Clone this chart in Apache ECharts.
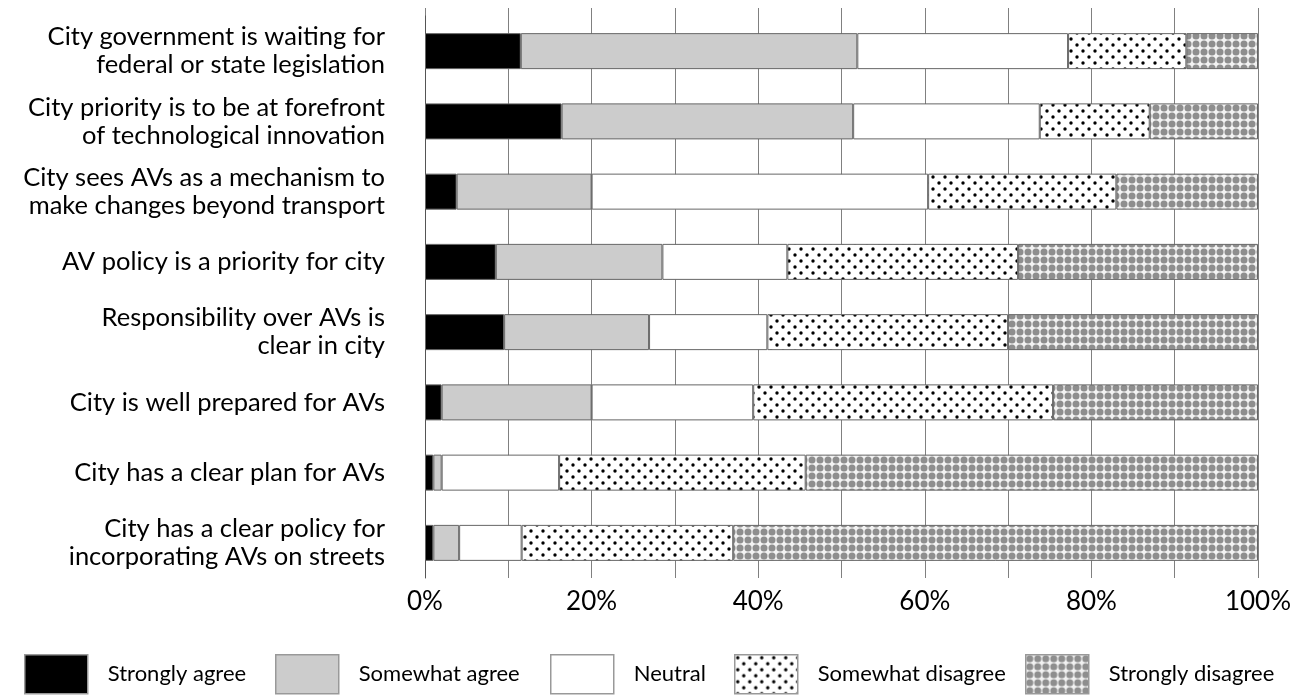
<!DOCTYPE html>
<html>
<head>
<meta charset="utf-8">
<script src="https://cdn.jsdelivr.net/npm/echarts@6/dist/echarts.min.js"></script>
<style>
html,body{margin:0;padding:0;background:#fff;}
#chart{width:1307px;height:696px;}
</style>
</head>
<body>
<div id="chart"></div>
<script>
const categories = [
  "City government is waiting for\nfederal or state legislation",
  "City priority is to be at forefront\nof technological innovation",
  "City sees AVs as a mechanism to\nmake changes beyond transport",
  "AV policy is a priority for city",
  "Responsibility over AVs is\nclear in city",
  "City is well prepared for AVs",
  "City has a clear plan for AVs",
  "City has a clear policy for\nincorporating AVs on streets"
];
const seriesNames = ["Strongly agree", "Somewhat agree", "Neutral", "Somewhat disagree", "Strongly disagree"];
const stronglyAgree    = [11.5, 16.4, 3.8, 8.5, 9.5, 2.0, 1.0, 1.0];
const somewhatAgree    = [40.4, 35.0, 16.2, 20.0, 17.4, 18.0, 1.0, 3.1];
const neutral          = [25.3, 22.4, 40.4, 15.0, 14.2, 19.4, 14.1, 7.5];
const somewhatDisagree = [14.2, 13.2, 22.6, 27.7, 28.9, 36.0, 29.6, 25.4];
const stronglyDisagree = [8.6, 13.0, 17.0, 28.8, 30.0, 24.6, 54.3, 63.0];
const tickLabels = ["0%", "20%", "40%", "60%", "80%", "100%"];

function dotPattern() {
  const c = document.createElement('canvas');
  c.width = 12; c.height = 12;
  const g = c.getContext('2d');
  g.fillStyle = '#ffffff'; g.fillRect(0, 0, 12, 12);
  g.fillStyle = '#000000';
  [[3, 3], [9, 9]].forEach(p => { g.beginPath(); g.arc(p[0], p[1], 1.7, 0, Math.PI * 2); g.fill(); });
  return { image: c, repeat: 'repeat' };
}
function circlePattern() {
  const s = 8;
  const c = document.createElement('canvas');
  c.width = s; c.height = s;
  const g = c.getContext('2d');
  g.fillStyle = '#f2f2f2'; g.fillRect(0, 0, s, s);
  g.fillStyle = '#8e8e8e';
  g.beginPath(); g.arc(s / 2, s / 2, 3.5, 0, Math.PI * 2); g.fill();
  return { image: c, repeat: 'repeat' };
}

const fills = ['#000000', '#cccccc', '#ffffff', dotPattern(), circlePattern()];
const dataSets = [stronglyAgree, somewhatAgree, neutral, somewhatDisagree, stronglyDisagree];
const FONT = 'Lato';

const series = seriesNames.map((n, i) => ({
  name: n,
  type: 'bar',
  stack: 'total',
  barWidth: 36,
  xAxisIndex: 0,
  yAxisIndex: 0,
  data: dataSets[i],
  itemStyle: { color: fills[i], borderColor: '#666666', borderWidth: 1 },
  emphasis: { disabled: true },
  animation: false
}));

const legendLefts = [24, 275, 550, 734, 1025];
const legends = seriesNames.map((n, i) => ({
  data: [n],
  left: legendLefts[i],
  top: 654,
  padding: 0,
  itemWidth: 63,
  itemHeight: 39,
  icon: 'rect',
  itemStyle: { borderColor: '#999999', borderWidth: 1.5 },
  selectedMode: false,
  textStyle: { fontFamily: FONT, fontSize: 22, color: '#000', padding: [0, 0, 0, 15] }
}));

const chart = echarts.init(document.getElementById('chart'), null, { renderer: 'canvas' });
chart.setOption({
  animation: false,
  backgroundColor: '#ffffff',
  legend: legends,
  grid: [
    { left: 425, right: 49, top: 16, bottom: 118 },
    { left: 425, right: 49, top: 8, bottom: 118 }
  ],
  xAxis: [
    {
      type: 'value', gridIndex: 0, min: 0, max: 100, interval: 20,
      axisLine: { show: false }, axisTick: { show: false }, splitLine: { show: false },
      axisLabel: {
        margin: 11, fontFamily: FONT, fontSize: 26, color: '#000',
        formatter: v => tickLabels[Math.round(v / 20)]
      }
    },
    {
      type: 'value', gridIndex: 1, min: 0, max: 100, interval: 10,
      axisLine: { show: false }, axisTick: { show: false }, axisLabel: { show: false },
      splitLine: { show: true, lineStyle: { color: '#808080', width: 1 } }
    }
  ],
  yAxis: [
    {
      type: 'category', gridIndex: 0, data: categories, inverse: true,
      axisLine: { show: true, lineStyle: { color: '#555', width: 1 } },
      axisTick: { show: false },
      axisLabel: {
        margin: 40, fontFamily: FONT, fontSize: 25.5, color: '#000',
        lineHeight: 28, align: 'right'
      }
    },
    {
      type: 'category', gridIndex: 1, data: categories, show: false
    }
  ],
  series: series
});
</script>
</body>
</html>
